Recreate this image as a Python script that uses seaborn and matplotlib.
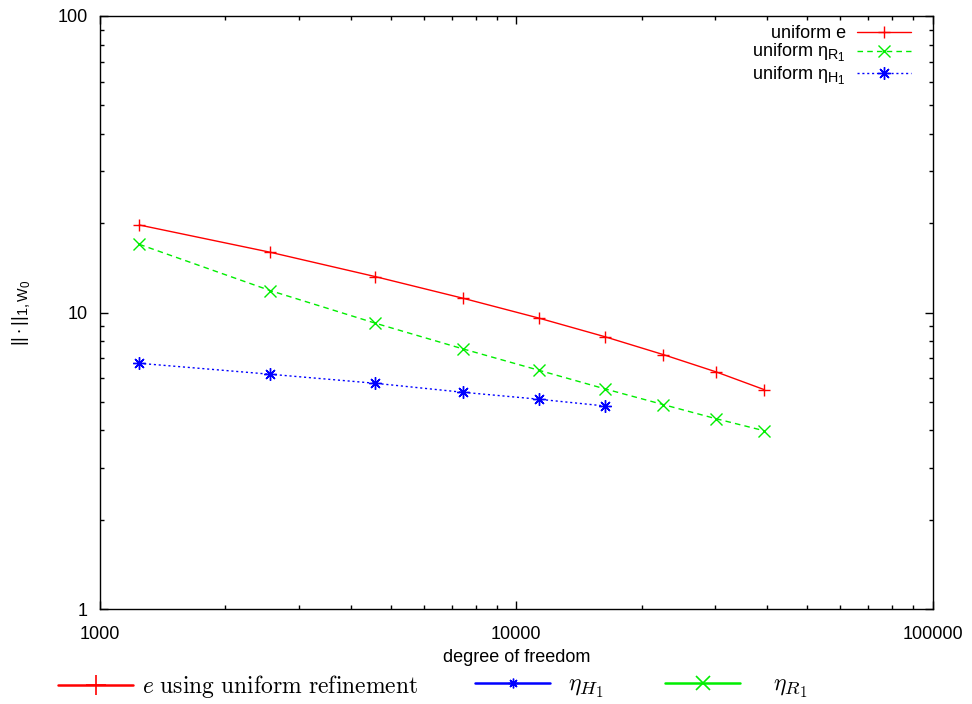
import matplotlib
matplotlib.use("Agg")
import matplotlib.pyplot as plt
from matplotlib.lines import Line2D
from matplotlib.ticker import FixedLocator, FuncFormatter, NullFormatter, LogLocator
import seaborn as sns

try:
    # gnuplot-like, less aggressive shrinking of sub/superscripts
    import matplotlib._mathtext as _mt
    _mt.SHRINK_FACTOR = 0.8
except Exception:
    pass

# Degrees of freedom for each uniform refinement step
dof = [1243, 2567, 4590, 7467, 11315, 16305, 22565, 30260, 39470]
dof_h1 = dof[:6]

# Error and estimator values in the ||.||_{1,W0} norm
err_e = [19.73, 15.96, 13.21, 11.16, 9.58, 8.29, 7.21, 6.30, 5.49]
eta_r1 = [16.98, 11.85, 9.20, 7.53, 6.39, 5.53, 4.89, 4.38, 3.99]
eta_h1 = [6.74, 6.19, 5.77, 5.38, 5.10, 4.84]

x_ticks = [1000, 10000, 100000]
y_ticks = [1, 10, 100]

series_labels = ["uniform e", r"uniform $\mathregular{\eta_{R_1}}$", r"uniform $\mathregular{\eta_{H_1}}$"]
bottom_labels = [r"$e\ \mathrm{using\ uniform\ refinement}$", r"$\eta_{H_1}$", r"$\eta_{R_1}$"]
x_label = "degree of freedom"
y_label = r"$\mathregular{||\cdot||_{1,W_0}}$"

RED, GREEN, BLUE = "#ff0000", "#00ee00", "#0000ff"
ASTERISK = (8, 2, 0)

sns.set_theme(style="ticks")
plt.rcParams.update({
    "font.family": ["Liberation Sans", "DejaVu Sans"],
    "mathtext.fontset": "custom",
    "mathtext.rm": "Liberation Sans",
    "mathtext.it": "Liberation Sans:italic",
    "mathtext.bf": "Liberation Sans:bold",
    "text.color": "black",
    "axes.labelcolor": "black",
    "xtick.color": "black",
    "ytick.color": "black",
    "axes.edgecolor": "black",
})

fig = plt.figure(figsize=(9.72, 7.04), dpi=100)
ax = fig.add_axes([100 / 972, 95 / 704, 832.5 / 972, 593 / 704])
ax.set_xscale("log")
ax.set_yscale("log")

sns.lineplot(x=dof, y=err_e, ax=ax, color=RED, linewidth=1.0, marker="+",
             markersize=9, markeredgewidth=1.0, markeredgecolor=RED,
             label=series_labels[0])
sns.lineplot(x=dof, y=eta_r1, ax=ax, color=GREEN, linewidth=1.0, linestyle=(0, (4, 3)),
             marker="x", markersize=8, markeredgewidth=1.0, markeredgecolor=GREEN,
             label=series_labels[1])
sns.lineplot(x=dof_h1, y=eta_h1, ax=ax, color=BLUE, linewidth=1.0, linestyle=(0, (1.5, 2)),
             marker=ASTERISK, markersize=9, markeredgewidth=1.0, markeredgecolor=BLUE,
             label=series_labels[2])

ax.set_xlim(x_ticks[0], x_ticks[-1])
ax.set_ylim(y_ticks[0], y_ticks[-1])
ax.xaxis.set_major_locator(FixedLocator(x_ticks))
ax.yaxis.set_major_locator(FixedLocator(y_ticks))
ax.xaxis.set_minor_locator(LogLocator(base=10, subs=range(2, 10)))
ax.yaxis.set_minor_locator(LogLocator(base=10, subs=range(2, 10)))
plain = FuncFormatter(lambda v, p: f"{int(round(v))}")
ax.xaxis.set_major_formatter(plain)
ax.yaxis.set_major_formatter(plain)
ax.xaxis.set_minor_formatter(NullFormatter())
ax.yaxis.set_minor_formatter(NullFormatter())

for side in ax.spines.values():
    side.set_linewidth(1.0)
    side.set_color("black")
ax.tick_params(which="both", direction="in", top=True, right=True, width=1.0)
ax.tick_params(which="major", length=5.8, labelsize=13)
ax.tick_params(axis="x", which="major", pad=12)
ax.tick_params(axis="y", which="major", pad=9)
ax.tick_params(which="minor", length=2.9)

ax.set_xlabel(x_label, fontsize=13)
ax.set_ylabel(y_label, fontsize=13)
ax.xaxis.set_label_coords(0.5, -0.0675)
ax.yaxis.set_label_coords(-0.08, 0.5)

# Key inside the axes, labels to the left of their samples
ax.legend(loc="upper right", bbox_to_anchor=(911 / 972, 1 - 25 / 704),
          bbox_transform=fig.transFigure, frameon=False, markerfirst=False,
          handlelength=3.0, handletextpad=0.6, labelspacing=0.0,
          borderpad=0, borderaxespad=0, numpoints=1, fontsize=13)

# Key below the axes
fs_bottom = 17
bottom_handles = [
    Line2D([], [], color=RED, lw=1.8, marker="+", markersize=15, markeredgewidth=1.2),
    Line2D([], [], color=BLUE, lw=1.8, marker=ASTERISK, markersize=7, markeredgewidth=1.0),
    Line2D([], [], color=GREEN, lw=1.8, marker="x", markersize=10, markeredgewidth=1.2),
]
bottom_x = [58, 475, 665]
bottom_pad = [9, 18, 33]
px_per_pt = 100 / 72
for h, lab, x0, pad in zip(bottom_handles, bottom_labels, bottom_x, bottom_pad):
    lg = fig.legend(handles=[h], labels=[lab], loc="center left",
                    bbox_to_anchor=(x0 / 972, 1 - 687 / 704), frameon=False,
                    borderpad=0, borderaxespad=0, numpoints=1, fontsize=fs_bottom,
                    handlelength=75 / (fs_bottom * px_per_pt),
                    handletextpad=pad / (fs_bottom * px_per_pt))
    for t in lg.get_texts():
        t.set_math_fontfamily("cm")

fig.savefig("out.png", dpi=100)
